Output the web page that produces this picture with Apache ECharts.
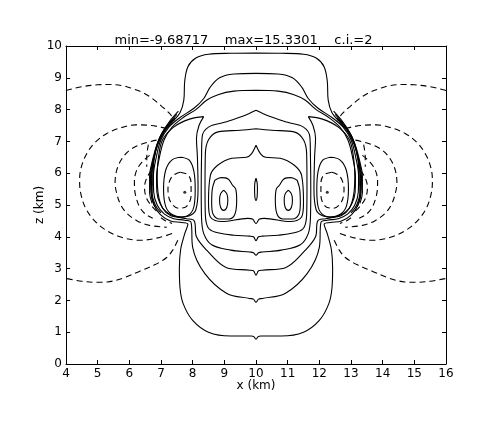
<!DOCTYPE html>
<html>
<head>
<meta charset="utf-8">
<script src="https://cdn.jsdelivr.net/npm/echarts@6/dist/echarts.min.js"></script>
<style>
  html, body { margin: 0; padding: 0; background: #fff; }
  #chart { width: 487px; height: 425px; }
</style>
</head>
<body>
<div id="chart"></div>
<script>
// contour traces, in km (x, z)
// "half" curves run from the top centre (x=10) round the left side to the bottom centre; right side is the mirror image
const titleText = 'min=-9.68717    max=15.3301    c.i.=2'
const xTicks = [4, 16, 1]
const zTicks = [0, 10, 1]

// solid contours wrapping the lobes
const s1Half = [[10,9.78],[9.2,9.77],[8.5,9.74],[8.1,9.62],[7.85,9.35],[7.75,8.9],[7.72,8.3],[7.6,7.9],[7.35,7.6],[7.1,7.3],[6.9,6.9],[6.75,6.4],[6.67,5.9],[6.68,5.4],[6.78,5.0],[6.98,4.7],[7.3,4.5],[7.65,4.45],[7.85,4.4],[7.75,4.1],[7.62,3.6],[7.58,3.0],[7.6,2.4],[7.7,1.9],[8.0,1.37],[8.5,1.0],[9.2,0.88],[9.85,0.88],[9.93,0.86],[10,0.78]]
const s2Half = [[10,9.14],[9.3,9.12],[8.85,9.0],[8.55,8.7],[8.35,8.35],[8.05,8.05],[7.6,7.75],[7.25,7.45],[7.0,7.05],[6.85,6.5],[6.76,5.9],[6.77,5.4],[6.88,5.0],[7.1,4.72],[7.4,4.57],[7.75,4.52],[7.95,4.45],[8.0,3.67],[8.38,2.85],[9.08,2.22],[9.8,2.06],[9.92,2.04],[10,1.94]]
const s3Half = [[10,8.61],[9.3,8.58],[8.8,8.47],[8.45,8.3],[8.1,8.0],[7.7,7.75],[7.35,7.45],[7.1,7.05],[6.95,6.5],[6.86,5.9],[6.87,5.4],[6.97,5.05],[7.15,4.8],[7.45,4.64],[7.8,4.57],[8.05,4.5],[8.12,4.0],[8.45,3.57],[9.07,3.03],[9.8,2.95],[9.92,2.93],[10,2.79]]

// solid contours between lobe and centre
const v1Half = [[10,7.98],[9.6,7.8],[9.0,7.6],[8.5,7.45],[8.3,7.15],[8.28,6.5],[8.27,5.5],[8.28,4.6],[8.35,4.1],[8.6,3.75],[9.2,3.58],[9.8,3.52],[9.92,3.5],[10,3.42]]
const v2Half = [[10,7.4],[9.5,7.35],[8.8,7.3],[8.5,7.05],[8.4,6.6],[8.39,5.5],[8.4,4.7],[8.48,4.3],[8.7,4.15],[9.3,4.05],[9.8,4.02],[9.92,4.0],[10,3.88]]
const starHalf = [[10,6.88],[9.85,6.6],[9.7,6.5],[9.24,6.47],[8.79,6.25],[8.56,5.93],[8.5,5.08],[8.56,4.62],[8.92,4.48],[9.74,4.58],[9.9,4.55],[10,4.42]]
const centreHalf = [[10,5.84],[9.965,5.7],[9.955,5.5],[9.965,5.25],[10,5.14]]

// closed loops on the left, copied to the right
const rectLoop = [[8.7,5.78],[8.62,5.5],[8.6,5.05],[8.65,4.7],[8.85,4.56],[9.15,4.56],[9.33,4.7],[9.39,5.15],[9.36,5.5],[9.26,5.62],[9.12,5.82],[8.9,5.86],[8.7,5.78]]
const smallLoop = [[8.98,5.47],[8.88,5.35],[8.85,5.15],[8.88,4.93],[8.98,4.83],[9.08,4.93],[9.11,5.15],[9.08,5.35],[8.98,5.47]]
const tongueLoop = [[8.35,7.78],[7.9,7.7],[7.4,7.45],[7.05,7.05],[6.92,6.5],[6.88,5.9],[6.92,5.3],[7.05,4.9],[7.3,4.67],[7.6,4.62],[7.9,4.66],[8.1,4.85],[8.17,5.5],[8.15,6.5],[8.12,7.1],[8.2,7.5],[8.35,7.78]]
const lobeLoop = [[7.65,6.5],[7.35,6.42],[7.15,6.1],[7.08,5.5],[7.15,4.95],[7.35,4.7],[7.65,4.62],[7.92,4.72],[8.05,5.0],[8.08,5.5],[8.04,6.05],[7.9,6.4],[7.65,6.5]]
const bandA = [[7.5,7.85],[7.2,7.5],[6.95,7.1],[6.8,6.6],[6.72,6.0],[6.72,5.4],[6.82,5.0],[7.0,4.75]]
const bandB = [[7.45,7.75],[7.15,7.42],[6.92,7.0],[6.79,6.5],[6.7,5.9],[6.71,5.3],[6.8,4.95]]
const bandC = [[7.4,7.68],[7.08,7.33],[6.87,6.9],[6.73,6.4],[6.64,5.9],[6.64,5.4],[6.72,5.05]]
const bandD = [[7.55,7.95],[7.25,7.6],[7.0,7.2],[6.83,6.7],[6.76,6.2],[6.75,5.6]]

// dashed (negative) contours
const lobeDash = [[7.6,6.03],[7.35,5.9],[7.22,5.5],[7.3,5.1],[7.55,4.9],[7.8,4.95],[7.95,5.3],[7.95,5.7],[7.85,5.95],[7.6,6.03]]
const d1Top = [[4.0,8.6],[4.5,8.72],[5.0,8.78],[5.38,8.79],[5.8,8.75],[6.1,8.66],[6.42,8.54],[6.75,8.33],[7.05,8.08],[7.27,7.88],[7.43,7.66]]
const d1Bottom = [[7.53,3.89],[7.38,3.6],[7.18,3.35],[6.8,3.12],[6.33,2.92],[5.8,2.7],[5.3,2.58],[5.0,2.57],[4.5,2.6],[4.0,2.69]]
const d2 = [[7.18,7.41],[6.7,7.5],[6.2,7.52],[5.7,7.42],[5.29,7.25],[4.9,6.95],[4.62,6.55],[4.46,6.1],[4.43,5.7],[4.48,5.3],[4.62,4.9],[4.86,4.55],[5.2,4.25],[5.7,4.0],[6.33,3.89],[6.96,3.98],[7.37,4.11]]
const d3 = [[6.86,7.04],[6.4,6.92],[6.01,6.72],[5.75,6.43],[5.6,6.09],[5.55,5.7],[5.6,5.37],[5.72,5.02],[5.92,4.74],[6.25,4.5],[6.64,4.36],[7.18,4.3]]
const d4 = [[6.64,6.56],[6.4,6.35],[6.23,6.09],[6.16,5.76],[6.17,5.46],[6.23,5.18],[6.33,4.93],[6.5,4.72],[6.74,4.58]]
const d5 = [[6.7,6.09],[6.55,5.85],[6.48,5.56],[6.52,5.28],[6.64,5.05],[6.9,4.77]]
const d6 = [[7.0,4.6],[7.15,4.5],[7.35,4.42]]
const d7 = [[6.6,6.9],[6.55,6.5],[6.55,6.2]]
const lobeDots = [[7.75,5.4],[12.25,5.4]]

const flip = pts => pts.map(p => [20 - p[0], p[1]])
const closeHalf = half => half.concat(flip(half).reverse())

const solid = (data) => ({
  type: 'line', data, smooth: 0.35, showSymbol: false, silent: true,
  lineStyle: { color: '#000', width: 1.1 }
})
const dashed = (data) => ({
  type: 'line', data, smooth: 0.35, showSymbol: false, silent: true,
  lineStyle: { color: '#000', width: 1.1, type: [6, 4] }
})

const series = []
;[s1Half, s2Half, s3Half, v1Half, v2Half, starHalf, centreHalf].forEach(h => series.push(solid(closeHalf(h))))
;[rectLoop, smallLoop, tongueLoop, lobeLoop, bandA, bandB, bandC, bandD].forEach(l => {
  series.push(solid(l))
  series.push(solid(flip(l)))
})
;[lobeDash, d1Top, d1Bottom, d2, d3, d4, d5, d6, d7].forEach(l => {
  series.push(dashed(l))
  series.push(dashed(flip(l)))
})
series.push({
  type: 'scatter', data: lobeDots, symbolSize: 3, silent: true,
  itemStyle: { color: '#000' }
})

const chart = echarts.init(document.getElementById('chart'))
const axisFont = { color: '#000', fontFamily: 'DejaVu Sans', fontSize: 12 }
const frameAxis = (pos, range, show) => ({
  type: 'value', position: pos, min: range[0], max: range[1], interval: range[2],
  axisLine: { show: true, onZero: false, lineStyle: { color: '#000', width: 1 } },
  axisTick: { show: true, inside: true, length: 4, lineStyle: { color: '#000' } },
  axisLabel: show ? Object.assign({ margin: 4 }, axisFont) : { show: false },
  splitLine: { show: false }
})
const xMain = frameAxis('bottom', xTicks, true)
xMain.name = 'x (km)'
xMain.nameLocation = 'middle'
xMain.nameGap = 16
xMain.nameMoveOverlap = false
xMain.nameTextStyle = axisFont
const zMain = frameAxis('left', zTicks, true)
zMain.name = 'z (km)'
zMain.nameLocation = 'middle'
zMain.nameGap = 20
zMain.nameMoveOverlap = false
zMain.nameTextStyle = axisFont

chart.setOption({
  animation: false,
  backgroundColor: '#fff',
  title: {
    text: titleText, left: 'center', top: 29,
    textStyle: { color: '#000', fontFamily: 'DejaVu Sans', fontSize: 13, fontWeight: 'normal' }
  },
  grid: { left: 66, right: 41, top: 46, bottom: 61 },
  xAxis: [xMain, frameAxis('top', xTicks, false)],
  yAxis: [zMain, frameAxis('right', zTicks, false)],
  series
})
</script>
</body>
</html>
